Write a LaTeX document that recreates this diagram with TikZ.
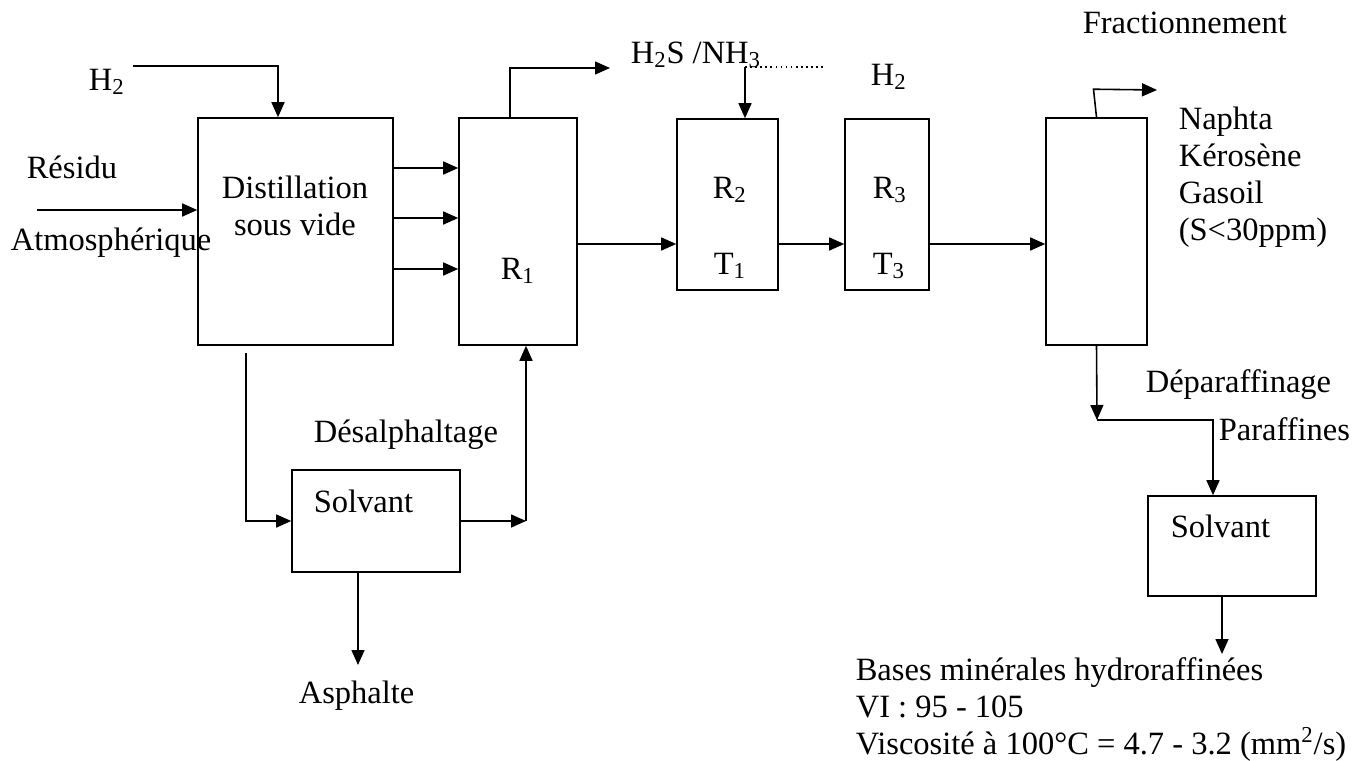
\documentclass[tikz,border=0pt]{standalone}
\usepackage{fontspec}
\setmainfont{Liberation Serif}
\usetikzlibrary{positioning, arrows.meta}

\begin{document}
\begin{tikzpicture}[x=0.2mm, y=-0.2mm, line width=0.9pt,
					font=\fontsize{18.5}{21}\selectfont,
					box/.style={draw, rectangle, inner sep=0pt},
					lbl/.style={inner sep=0pt, anchor=base west, align=left},
					arrow/.style={-{Triangle[length=3mm, width=2.6mm]}}]
					\useasboundingbox (0,0) rectangle (1364,760);
					% boxes
					\node[box, minimum width=39mm, minimum height=45.4mm] (dist) at (295.5,231.5) {};
					\node[box, minimum width=23.6mm, minimum height=45.4mm] (r1) at (518,231.5) {};
					\node[box, minimum width=20.2mm, minimum height=34.2mm] (r2) at (727.5,204.5) {};
					\node[box, minimum width=16.8mm, minimum height=34.2mm] (r3) at (887,204.5) {};
					\node[box, minimum width=20.2mm, minimum height=45.4mm] (frac) at (1096.5,231.5) {};
					\node[box, minimum width=33.6mm, minimum height=20.4mm] (solv1) at (376,521) {};
					\node[box, minimum width=33.6mm, minimum height=20mm] (solv2) at (1232,546) {};
					% texts (multi-line nodes sit on their last baseline)
					\node[lbl] (h2a) at (88,90) {H\textsubscript{2}};
					\node[lbl] (residu) at (26,178) {Résidu};
					\node[lbl] (atmo) at (10,250) {Atmosphérique};
					\node[lbl, align=center, anchor=base] (disttxt) at (295,235) {Distillation\\sous vide};
					\node[lbl] (r1txt) at (500,279) {R\textsubscript{1}};
					\node[lbl] (r2txt) at (712,198) {R\textsubscript{2}};
					\node[lbl] (t1txt) at (713,274) {T\textsubscript{1}};
					\node[lbl] (r3txt) at (872,198) {R\textsubscript{3}};
					\node[lbl] (t3txt) at (872,274) {T\textsubscript{3}};
					\node[lbl] (gas) at (630,63) {H\textsubscript{2}S /NH\textsubscript{3}};
					\node[lbl] (h2b) at (870,85) {H\textsubscript{2}};
					\node[lbl] (fractxt) at (1082,33) {Fractionnement};
					\node[lbl] (prod) at (1178,240) {Naphta\\Kérosène\\Gasoil\\(S<30ppm)};
					\node[lbl] (depar) at (1145,392) {Déparaffinage};
					\node[lbl] (paraf) at (1218,440) {Paraffines};
					\node[lbl] (desal) at (313,442) {Désalphaltage};
					\node[lbl] (solv1txt) at (313,512) {Solvant};
					\node[lbl] (solv2txt) at (1170,537) {Solvant};
					\node[lbl] (asph) at (298,703) {Asphalte};
					\node[lbl] (bases) at (855,754) {Bases minérales hydroraffinées\\VI : 95 - 105\\Viscosité à 100°C = 4.7 - 3.2 (mm\textsuperscript{2}/s)};
					% connectors
					\coordinate (h2in) at (133,66);
					\coordinate (resin) at (37,210);
					\coordinate (gasout) at (610,68);
					\coordinate (h2r2) at (745,67);
					\coordinate (dotend) at (825,67);
					\coordinate (fracout) at (1157,90);
					\coordinate (split) at (1097,420);
					\coordinate (baseout) at (1222,654);
					\coordinate (distout) at (246,353);
					\coordinate (recyc) at (526,521);
					\coordinate (asphout) at (358,665);
					\draw[arrow] (h2in) -| ([xshift=-3.5mm]dist.north);
					\draw[arrow] (resin) -- (resin -| dist.west);
					\foreach \y in {168,218,269}
						\draw[arrow] (dist.east |- 0,\y) -- (r1.west |- 0,\y);
					\draw[arrow] ([xshift=-1.6mm]r1.north) |- (gasout);
					\draw[dotted] (h2r2) -- (dotend);
					\draw[arrow] (h2r2) -- (h2r2 |- r2.north);
					\foreach \a/\b in {r1/r2, r2/r3, r3/frac}
						\draw[arrow] (\a.east |- 0,244) -- (\b.west |- 0,244);
					\draw[arrow] (frac.north) -- ++(-3,-28) -- (fracout);
					\draw[arrow] (frac.south) -- (split);
					\draw[arrow] (split) -| ([xshift=-3.8mm]solv2.north);
					\draw[arrow] ([xshift=-2mm]solv2.south) -- (baseout);
					\draw[arrow] (distout) |- (solv1.west);
					\draw[arrow] (solv1.east) -- (recyc);
					\draw[arrow] (recyc) -- (recyc |- r1.south);
					\draw[arrow] ([xshift=-3.6mm]solv1.south) -- (asphout);
				\end{tikzpicture}
\end{document}
